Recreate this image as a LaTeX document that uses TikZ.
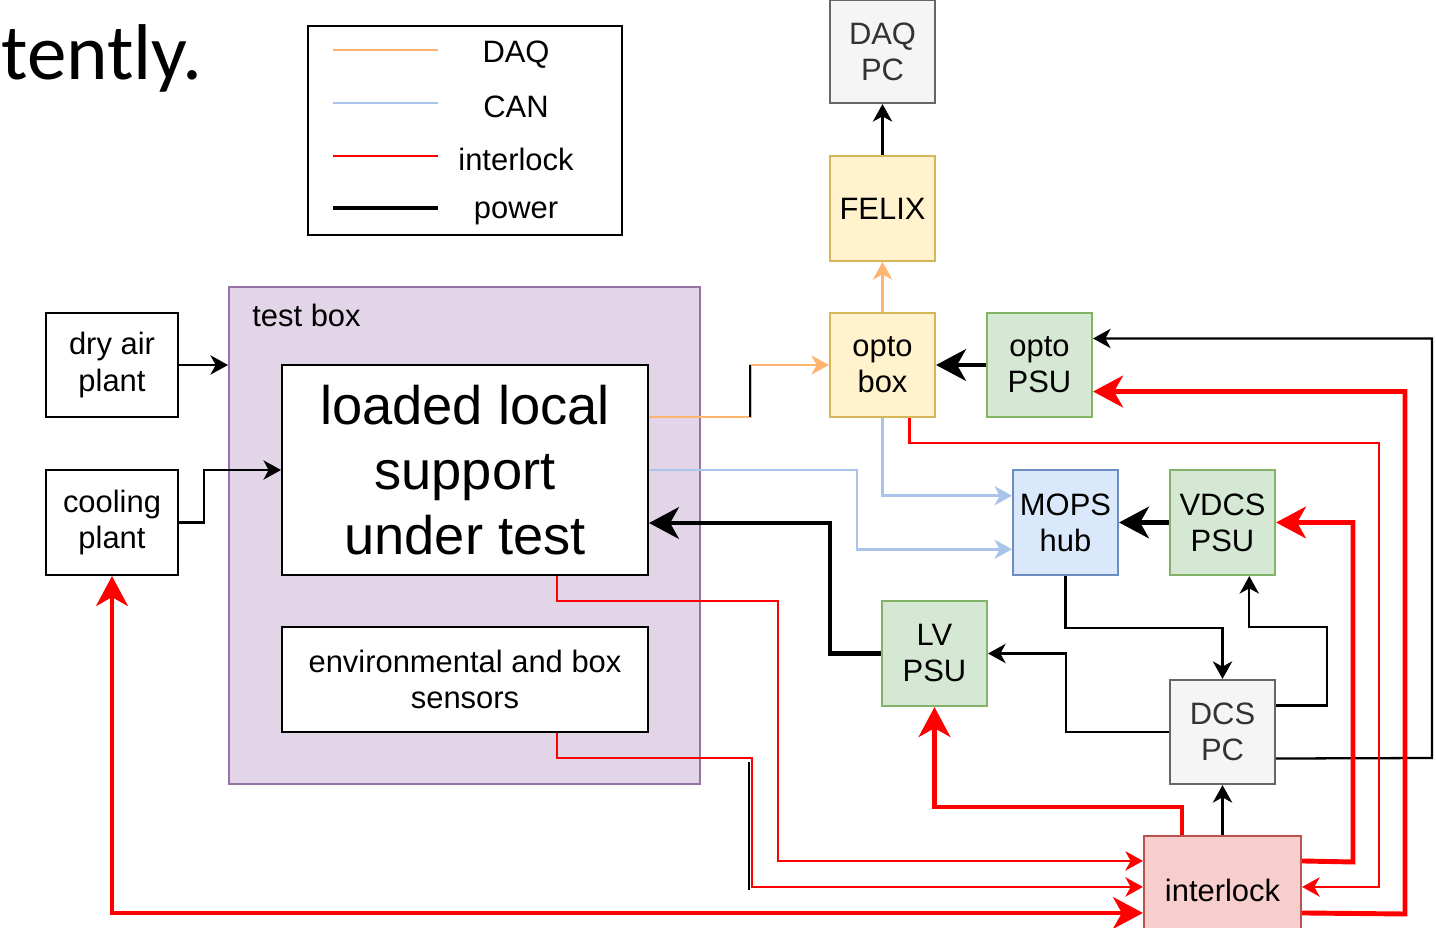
\documentclass[tikz,border=0pt]{standalone}
\usepackage{fontspec}
\setmainfont{Liberation Sans}
\newfontfamily\slidefont{Carlito}
\usetikzlibrary{arrows.meta,calc,positioning}

\definecolor{daqline}{HTML}{FFB570}
\definecolor{canline}{HTML}{A9C4EB}
\definecolor{ilkline}{HTML}{FF0000}
\definecolor{greyfill}{HTML}{F5F5F5}
\definecolor{greydraw}{HTML}{666666}
\definecolor{yelfill}{HTML}{FFF2CC}
\definecolor{yeldraw}{HTML}{D6B656}
\definecolor{grnfill}{HTML}{D5E8D4}
\definecolor{grndraw}{HTML}{82B366}
\definecolor{blufill}{HTML}{DAE8FC}
\definecolor{bludraw}{HTML}{6C8EBF}
\definecolor{redfill}{HTML}{F8CECC}
\definecolor{reddraw}{HTML}{B85450}
\definecolor{purfill}{HTML}{E1D5E7}
\definecolor{purdraw}{HTML}{9673A6}

\begin{document}
\begin{tikzpicture}[x=0.02cm,y=-0.02cm,>=Stealth]
    \tikzstyle{box}=[draw,line width=1.2pt,inner sep=0pt,align=center,minimum width=2.1cm,minimum height=2.1cm,font=\fontsize{17.6}{20.5}\selectfont]
    \tikzstyle{pw}=[line width=1.3pt,-{Stealth[length=10pt,width=11pt,inset=3pt]}]
    \tikzstyle{pwt}=[line width=2.6pt,-{Stealth[length=17pt,width=18pt,inset=5pt]}]
    \tikzstyle{dq}=[daqline,line width=1.4pt,-{Stealth[length=10pt,width=11pt,inset=3pt]}]
    \tikzstyle{cn}=[canline,line width=1.4pt,-{Stealth[length=10pt,width=11pt,inset=3pt]}]
    \tikzstyle{il}=[ilkline,line width=1.5pt,-{Stealth[length=10pt,width=11pt,inset=3pt]}]
    \tikzstyle{ilt}=[ilkline,line width=2.8pt,-{Stealth[length=17pt,width=18pt,inset=5pt]}]
    \useasboundingbox (0,0) rectangle (1436,928);

    % slide text on the left
    \node[anchor=base west,inner sep=0pt,font=\slidefont\fontsize{45}{52}\selectfont] (slide) at (1,80) {tently.};

    % legend
    \node[draw,line width=1.2pt,minimum width=6.28cm,minimum height=4.18cm] (leg) at (465,130.5) {};
    \draw[daqline,line width=1.5pt] (333,50) -- (438,50);
    \draw[canline,line width=1.4pt] (333,103) -- (438,103);
    \draw[ilkline,line width=1.6pt] (333,156) -- (438,156);
    \draw[black,line width=2.6pt] (333,208) -- (438,208);
    \node[font=\fontsize{17.6}{20.5}\selectfont] (lDAQ) at (516,55) {DAQ};
    \node[font=\fontsize{17.6}{20.5}\selectfont] (lCAN) at (516,107) {CAN};
    \node[font=\fontsize{17.6}{20.5}\selectfont] (lIL) at (516,159) {interlock};
    \node[font=\fontsize{17.6}{20.5}\selectfont] (lPW) at (516,213) {power};

    % test box
    \node[box,fill=purfill,draw=purdraw,minimum width=9.42cm,minimum height=9.94cm] (TB) at (464.5,535.5) {};
    \node[anchor=west,inner sep=0pt,font=\fontsize{17.6}{20.5}\selectfont] (TBl) at (252,315) {test box};
    \node[box,fill=white,minimum width=7.32cm,minimum height=4.2cm,font=\fontsize{30.9}{37}\selectfont] (LLS) at (465,470) {loaded local\\support\\under test};
    \node[box,fill=white,minimum width=7.32cm] (ENV) at (465,679.5) {environmental and box\\sensors};

    \node[box,fill=white,minimum width=2.64cm,minimum height=2.08cm] (DRY) at (112,365) {dry air\\plant};
    \node[box,fill=white,minimum width=2.64cm] (COOL) at (112,522.5) {cooling\\plant};

    \node[box,fill=greyfill,draw=greydraw,text=black!80,minimum height=2.06cm] (DAQ) at (882.5,51.5) {DAQ\\PC};
    \node[box,fill=yelfill,draw=yeldraw] (FELIX) at (882.5,208.5) {FELIX};
    \node[box,fill=yelfill,draw=yeldraw,minimum height=2.08cm] (OB) at (882.5,365) {opto\\box};
    \node[box,fill=grnfill,draw=grndraw,minimum height=2.08cm] (OPSU) at (1039.5,365) {opto\\PSU};
    \node[box,fill=blufill,draw=bludraw] (MOPS) at (1065.5,522.5) {MOPS\\hub};
    \node[box,fill=grnfill,draw=grndraw] (VDCS) at (1222.5,522.5) {VDCS\\PSU};
    \node[box,fill=grnfill,draw=grndraw] (LV) at (934.5,653.5) {LV\\PSU};
    \node[box,fill=greyfill,draw=greydraw,text=black!80,minimum height=2.08cm] (DCS) at (1222.5,732) {DCS\\PC};
    \node[box,fill=redfill,draw=reddraw,minimum width=3.14cm,minimum height=2.16cm] (IL) at (1222.5,890) {interlock};

    % DAQ
    \draw[dq] ($(LLS.north east)!0.25!(LLS.south east)$) -- ++(102,0) |- (OB.west);
    \draw[dq] (OB.north) -- (FELIX.south);
    \draw[pw] (FELIX.north) -- (DAQ.south);

    % CAN
    \draw[cn] (OB.south) |- ($(MOPS.north west)!0.25!(MOPS.south west)$);
    \draw[cn] (LLS.east) -- (857,470) |- ($(MOPS.north west)!0.75!(MOPS.south west)$);

    % power
    \draw[pw] (DRY.east) -- (DRY.east -| TB.west);
    \draw[pw] (COOL.east) -- ++(25,0) |- (LLS.west);
    \draw[pwt] (OPSU.west) -- (OB.east);
    \draw[pwt] (VDCS.west) -- (MOPS.east);
    \draw[pwt] (LV.west) -- (830,653.5) |- ($(LLS.north east)!0.75!(LLS.south east)$);
    \draw[pw] (MOPS.south) -- ++(0,52) -| (DCS.north);
    \draw[pw] (DCS.west) -- (1066,732) |- (LV.east);
    \draw[pw] ($(DCS.north east)!0.25!(DCS.south east)$) -| (1327,627) -| ($(VDCS.south west)!0.75!(VDCS.south east)$);
    \draw[pw] ($(DCS.north east)!0.75!(DCS.south east)$) -- (1432,758) |- ($(OPSU.north east)!0.25!(OPSU.south east)$);
    \draw[pw] (IL.north) -- (DCS.south);
    \draw[line width=1.3pt] (750,365) -- (750,417);
    \draw[line width=1.3pt] (749,762) -- (749,890);

    % interlock
    \draw[ilt] ($(IL.north east)+(0,26)$) -- (1353,862) |- (VDCS.east);
    \draw[ilt] ($(IL.north east)+(0,78)$) -- (1405,914) |- ($(OPSU.north east)!0.75!(OPSU.south east)$);
    \draw[il] ($(OB.south west)!0.75!(OB.south east)$) |- (1379,443) |- ($(IL.north east)+(0,52)$);
    \draw[ilt] ($(IL.north west)+(39,0)$) -- ++(0,-28) -| (LV.south);
    \draw[il] ($(LLS.south west)!0.75!(LLS.south east)$) |- (778,601) |- ($(IL.north west)+(0,26)$);
    \draw[il] ($(ENV.south west)!0.75!(ENV.south east)$) |- (752,758) |- ($(IL.north west)+(0,52)$);
    \draw[ilt,{Stealth[length=17pt,width=18pt,inset=5pt]}-{Stealth[length=17pt,width=18pt,inset=5pt]}] ($(IL.north west)+(0,78)$) -| (COOL.south);
\end{tikzpicture}
\end{document}
